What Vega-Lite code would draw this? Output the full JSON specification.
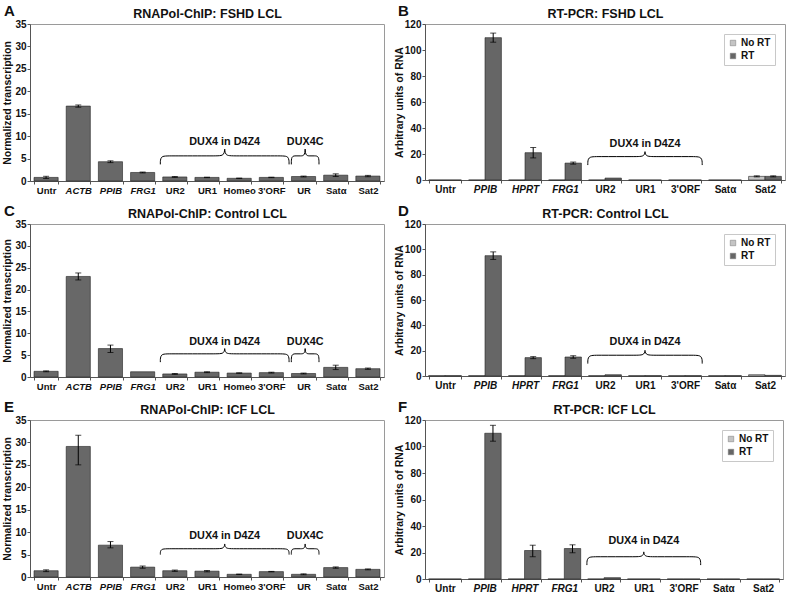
{
"$schema": "https://vega.github.io/schema/vega-lite/v6.json",
"background": "white",
"padding": {"left": 2, "top": 3, "right": 4, "bottom": 0},
"config": {
 "font": "Liberation Sans",
 "view": {"stroke": "#9a9a9a", "strokeWidth": 1},
 "axis": {"labelFont": "Liberation Sans", "labelFontWeight": "bold", "labelFontSize": 10, "labelColor": "#111", "titleFont": "Liberation Sans", "titleFontWeight": "bold", "titleFontSize": 10.5, "titleColor": "#111", "domainColor": "#555", "tickColor": "#555", "grid": false, "tickSize": 3, "labelPadding": 1, "titlePadding": 2, "labelOverlap": false},
 "title": {"font": "Liberation Sans", "fontWeight": "bold", "color": "#111"},
 "legend": {"labelFont": "Liberation Sans", "labelFontWeight": "bold", "labelFontSize": 10, "labelColor": "#111", "strokeColor": "#c8c8c8", "fillColor": "white", "padding": 4, "symbolType": "square", "symbolSize": 30, "offset": 10, "rowPadding": 3, "symbolStrokeColor": "#777", "symbolStrokeWidth": 0.5, "labelOffset": 3}
},
"datasets": {
 "chip": [
  {"p":"A","cat":"Untr","v":0.8,"lo":0.55,"hi":1.05},
  {"p":"A","cat":"ACTB","v":16.7,"lo":16.45,"hi":16.95},
  {"p":"A","cat":"PPIB","v":4.3,"lo":4.1,"hi":4.5},
  {"p":"A","cat":"FRG1","v":1.9,"lo":1.8,"hi":2.0},
  {"p":"A","cat":"UR2","v":0.9,"lo":0.8,"hi":1.0},
  {"p":"A","cat":"UR1","v":0.8,"lo":0.75,"hi":0.85},
  {"p":"A","cat":"Homeo","v":0.6,"lo":0.55,"hi":0.65},
  {"p":"A","cat":"3'ORF","v":0.8,"lo":0.75,"hi":0.85},
  {"p":"A","cat":"UR","v":1.0,"lo":0.9,"hi":1.1},
  {"p":"A","cat":"Satα","v":1.3,"lo":1.0,"hi":1.6},
  {"p":"A","cat":"Sat2","v":1.1,"lo":0.95,"hi":1.25},
  {"p":"C","cat":"Untr","v":1.3,"lo":1.2,"hi":1.4},
  {"p":"C","cat":"ACTB","v":23.0,"lo":22.2,"hi":23.8},
  {"p":"C","cat":"PPIB","v":6.5,"lo":5.6,"hi":7.3},
  {"p":"C","cat":"FRG1","v":1.2,"lo":null,"hi":null},
  {"p":"C","cat":"UR2","v":0.7,"lo":0.6,"hi":0.8},
  {"p":"C","cat":"UR1","v":1.1,"lo":1.0,"hi":1.2},
  {"p":"C","cat":"Homeo","v":0.9,"lo":0.85,"hi":0.95},
  {"p":"C","cat":"3'ORF","v":1.0,"lo":0.9,"hi":1.1},
  {"p":"C","cat":"UR","v":0.8,"lo":0.7,"hi":0.9},
  {"p":"C","cat":"Satα","v":2.2,"lo":1.7,"hi":2.7},
  {"p":"C","cat":"Sat2","v":1.9,"lo":1.75,"hi":2.05},
  {"p":"E","cat":"Untr","v":1.4,"lo":1.2,"hi":1.6},
  {"p":"E","cat":"ACTB","v":29.1,"lo":25.0,"hi":31.6},
  {"p":"E","cat":"PPIB","v":7.1,"lo":6.5,"hi":7.9},
  {"p":"E","cat":"FRG1","v":2.2,"lo":1.95,"hi":2.45},
  {"p":"E","cat":"UR2","v":1.4,"lo":1.25,"hi":1.55},
  {"p":"E","cat":"UR1","v":1.3,"lo":1.15,"hi":1.45},
  {"p":"E","cat":"Homeo","v":0.6,"lo":0.55,"hi":0.65},
  {"p":"E","cat":"3'ORF","v":1.2,"lo":1.15,"hi":1.25},
  {"p":"E","cat":"UR","v":0.6,"lo":0.5,"hi":0.7},
  {"p":"E","cat":"Satα","v":2.1,"lo":1.95,"hi":2.25},
  {"p":"E","cat":"Sat2","v":1.7,"lo":1.6,"hi":1.8}
 ],
 "rt": [
  {"p":"B","cat":"Untr","s":"No RT","v":0,"lo":null,"hi":null},
  {"p":"B","cat":"Untr","s":"RT","v":0,"lo":null,"hi":null},
  {"p":"B","cat":"PPIB","s":"No RT","v":0,"lo":null,"hi":null},
  {"p":"B","cat":"PPIB","s":"RT","v":109.5,"lo":106,"hi":113},
  {"p":"B","cat":"HPRT","s":"No RT","v":0,"lo":null,"hi":null},
  {"p":"B","cat":"HPRT","s":"RT","v":21,"lo":17,"hi":25},
  {"p":"B","cat":"FRG1","s":"No RT","v":0,"lo":null,"hi":null},
  {"p":"B","cat":"FRG1","s":"RT","v":13,"lo":12.2,"hi":13.8},
  {"p":"B","cat":"UR2","s":"No RT","v":0,"lo":null,"hi":null},
  {"p":"B","cat":"UR2","s":"RT","v":1.5,"lo":null,"hi":null},
  {"p":"B","cat":"UR1","s":"No RT","v":0,"lo":null,"hi":null},
  {"p":"B","cat":"UR1","s":"RT","v":0,"lo":null,"hi":null},
  {"p":"B","cat":"3'ORF","s":"No RT","v":0,"lo":null,"hi":null},
  {"p":"B","cat":"3'ORF","s":"RT","v":0,"lo":null,"hi":null},
  {"p":"B","cat":"Satα","s":"No RT","v":0,"lo":null,"hi":null},
  {"p":"B","cat":"Satα","s":"RT","v":0,"lo":null,"hi":null},
  {"p":"B","cat":"Sat2","s":"No RT","v":2.8,"lo":2.4,"hi":3.2},
  {"p":"B","cat":"Sat2","s":"RT","v":2.8,"lo":2.4,"hi":3.2},
  {"p":"D","cat":"Untr","s":"No RT","v":0.3,"lo":null,"hi":null},
  {"p":"D","cat":"Untr","s":"RT","v":0.3,"lo":null,"hi":null},
  {"p":"D","cat":"PPIB","s":"No RT","v":0.3,"lo":null,"hi":null},
  {"p":"D","cat":"PPIB","s":"RT","v":95,"lo":92,"hi":98},
  {"p":"D","cat":"HPRT","s":"No RT","v":0.3,"lo":null,"hi":null},
  {"p":"D","cat":"HPRT","s":"RT","v":14.5,"lo":13.7,"hi":15.3},
  {"p":"D","cat":"FRG1","s":"No RT","v":0.3,"lo":null,"hi":null},
  {"p":"D","cat":"FRG1","s":"RT","v":15,"lo":14,"hi":16},
  {"p":"D","cat":"UR2","s":"No RT","v":0.3,"lo":null,"hi":null},
  {"p":"D","cat":"UR2","s":"RT","v":1.0,"lo":null,"hi":null},
  {"p":"D","cat":"UR1","s":"No RT","v":0.3,"lo":null,"hi":null},
  {"p":"D","cat":"UR1","s":"RT","v":0.3,"lo":null,"hi":null},
  {"p":"D","cat":"3'ORF","s":"No RT","v":0.3,"lo":null,"hi":null},
  {"p":"D","cat":"3'ORF","s":"RT","v":0.3,"lo":null,"hi":null},
  {"p":"D","cat":"Satα","s":"No RT","v":0.3,"lo":null,"hi":null},
  {"p":"D","cat":"Satα","s":"RT","v":0.3,"lo":null,"hi":null},
  {"p":"D","cat":"Sat2","s":"No RT","v":1.0,"lo":null,"hi":null},
  {"p":"D","cat":"Sat2","s":"RT","v":0.5,"lo":null,"hi":null},
  {"p":"F","cat":"Untr","s":"No RT","v":0,"lo":null,"hi":null},
  {"p":"F","cat":"Untr","s":"RT","v":0,"lo":null,"hi":null},
  {"p":"F","cat":"PPIB","s":"No RT","v":0,"lo":null,"hi":null},
  {"p":"F","cat":"PPIB","s":"RT","v":110,"lo":104,"hi":116},
  {"p":"F","cat":"HPRT","s":"No RT","v":0,"lo":null,"hi":null},
  {"p":"F","cat":"HPRT","s":"RT","v":21.5,"lo":16.8,"hi":25.5},
  {"p":"F","cat":"FRG1","s":"No RT","v":0,"lo":null,"hi":null},
  {"p":"F","cat":"FRG1","s":"RT","v":23,"lo":19.8,"hi":25.8},
  {"p":"F","cat":"UR2","s":"No RT","v":0,"lo":null,"hi":null},
  {"p":"F","cat":"UR2","s":"RT","v":1.0,"lo":null,"hi":null},
  {"p":"F","cat":"UR1","s":"No RT","v":0,"lo":null,"hi":null},
  {"p":"F","cat":"UR1","s":"RT","v":0,"lo":null,"hi":null},
  {"p":"F","cat":"3'ORF","s":"No RT","v":0,"lo":null,"hi":null},
  {"p":"F","cat":"3'ORF","s":"RT","v":0,"lo":null,"hi":null},
  {"p":"F","cat":"Satα","s":"No RT","v":0,"lo":null,"hi":null},
  {"p":"F","cat":"Satα","s":"RT","v":0,"lo":null,"hi":null},
  {"p":"F","cat":"Sat2","s":"No RT","v":0,"lo":null,"hi":null},
  {"p":"F","cat":"Sat2","s":"RT","v":0,"lo":null,"hi":null}
 ],
 "braces": [
  {"p":"A","b":"d","o":1,"bx":4.05,"by":3.7},{"p":"A","b":"d","o":2,"bx":4.05,"by":5.6},{"p":"A","b":"d","o":3,"bx":4.3,"by":5.6},{"p":"A","b":"d","o":4,"bx":5.8,"by":5.6},{"p":"A","b":"d","o":5,"bx":6.05,"by":5.6},{"p":"A","b":"d","o":6,"bx":6.05,"by":7.9},{"p":"A","b":"d","o":7,"bx":6.05,"by":5.6},{"p":"A","b":"d","o":8,"bx":6.3,"by":5.6},{"p":"A","b":"d","o":9,"bx":7.8,"by":5.6},{"p":"A","b":"d","o":10,"bx":8.05,"by":5.6},{"p":"A","b":"d","o":11,"bx":8.05,"by":3.7},
  {"p":"A","b":"c","o":1,"bx":8.12,"by":3.7},{"p":"A","b":"c","o":2,"bx":8.12,"by":5.6},{"p":"A","b":"c","o":3,"bx":8.27,"by":5.6},{"p":"A","b":"c","o":4,"bx":8.4,"by":5.6},{"p":"A","b":"c","o":5,"bx":8.55,"by":5.6},{"p":"A","b":"c","o":6,"bx":8.55,"by":7.9},{"p":"A","b":"c","o":7,"bx":8.55,"by":5.6},{"p":"A","b":"c","o":8,"bx":8.7,"by":5.6},{"p":"A","b":"c","o":9,"bx":8.83,"by":5.6},{"p":"A","b":"c","o":10,"bx":8.98,"by":5.6},{"p":"A","b":"c","o":11,"bx":8.98,"by":3.7},
  {"p":"C","b":"d","o":1,"bx":4.05,"by":3.4},{"p":"C","b":"d","o":2,"bx":4.05,"by":5.3},{"p":"C","b":"d","o":3,"bx":4.3,"by":5.3},{"p":"C","b":"d","o":4,"bx":5.8,"by":5.3},{"p":"C","b":"d","o":5,"bx":6.05,"by":5.3},{"p":"C","b":"d","o":6,"bx":6.05,"by":7.1},{"p":"C","b":"d","o":7,"bx":6.05,"by":5.3},{"p":"C","b":"d","o":8,"bx":6.3,"by":5.3},{"p":"C","b":"d","o":9,"bx":7.8,"by":5.3},{"p":"C","b":"d","o":10,"bx":8.05,"by":5.3},{"p":"C","b":"d","o":11,"bx":8.05,"by":3.4},
  {"p":"C","b":"c","o":1,"bx":8.12,"by":3.4},{"p":"C","b":"c","o":2,"bx":8.12,"by":5.3},{"p":"C","b":"c","o":3,"bx":8.27,"by":5.3},{"p":"C","b":"c","o":4,"bx":8.4,"by":5.3},{"p":"C","b":"c","o":5,"bx":8.55,"by":5.3},{"p":"C","b":"c","o":6,"bx":8.55,"by":7.1},{"p":"C","b":"c","o":7,"bx":8.55,"by":5.3},{"p":"C","b":"c","o":8,"bx":8.7,"by":5.3},{"p":"C","b":"c","o":9,"bx":8.83,"by":5.3},{"p":"C","b":"c","o":10,"bx":8.98,"by":5.3},{"p":"C","b":"c","o":11,"bx":8.98,"by":3.4},
  {"p":"E","b":"d","o":1,"bx":4.05,"by":5.0},{"p":"E","b":"d","o":2,"bx":4.05,"by":6.3},{"p":"E","b":"d","o":3,"bx":4.3,"by":6.3},{"p":"E","b":"d","o":4,"bx":5.8,"by":6.3},{"p":"E","b":"d","o":5,"bx":6.05,"by":6.3},{"p":"E","b":"d","o":6,"bx":6.05,"by":7.9},{"p":"E","b":"d","o":7,"bx":6.05,"by":6.3},{"p":"E","b":"d","o":8,"bx":6.3,"by":6.3},{"p":"E","b":"d","o":9,"bx":7.8,"by":6.3},{"p":"E","b":"d","o":10,"bx":8.05,"by":6.3},{"p":"E","b":"d","o":11,"bx":8.05,"by":5.0},
  {"p":"E","b":"c","o":1,"bx":8.12,"by":5.0},{"p":"E","b":"c","o":2,"bx":8.12,"by":6.3},{"p":"E","b":"c","o":3,"bx":8.27,"by":6.3},{"p":"E","b":"c","o":4,"bx":8.4,"by":6.3},{"p":"E","b":"c","o":5,"bx":8.55,"by":6.3},{"p":"E","b":"c","o":6,"bx":8.55,"by":7.9},{"p":"E","b":"c","o":7,"bx":8.55,"by":6.3},{"p":"E","b":"c","o":8,"bx":8.7,"by":6.3},{"p":"E","b":"c","o":9,"bx":8.83,"by":6.3},{"p":"E","b":"c","o":10,"bx":8.98,"by":6.3},{"p":"E","b":"c","o":11,"bx":8.98,"by":5.0},
  {"p":"B","b":"d","o":1,"bx":4.07,"by":11.5},{"p":"B","b":"d","o":2,"bx":4.07,"by":18},{"p":"B","b":"d","o":3,"bx":4.29,"by":18},{"p":"B","b":"d","o":4,"bx":5.28,"by":18},{"p":"B","b":"d","o":5,"bx":5.5,"by":18},{"p":"B","b":"d","o":6,"bx":5.5,"by":23.7},{"p":"B","b":"d","o":7,"bx":5.5,"by":18},{"p":"B","b":"d","o":8,"bx":5.72,"by":18},{"p":"B","b":"d","o":9,"bx":6.71,"by":18},{"p":"B","b":"d","o":10,"bx":6.93,"by":18},{"p":"B","b":"d","o":11,"bx":6.93,"by":11.5},
  {"p":"D","b":"d","o":1,"bx":4.07,"by":9.8},{"p":"D","b":"d","o":2,"bx":4.07,"by":16.4},{"p":"D","b":"d","o":3,"bx":4.29,"by":16.4},{"p":"D","b":"d","o":4,"bx":5.28,"by":16.4},{"p":"D","b":"d","o":5,"bx":5.5,"by":16.4},{"p":"D","b":"d","o":6,"bx":5.5,"by":22.2},{"p":"D","b":"d","o":7,"bx":5.5,"by":16.4},{"p":"D","b":"d","o":8,"bx":5.72,"by":16.4},{"p":"D","b":"d","o":9,"bx":6.71,"by":16.4},{"p":"D","b":"d","o":10,"bx":6.93,"by":16.4},{"p":"D","b":"d","o":11,"bx":6.93,"by":9.8},
  {"p":"F","b":"d","o":1,"bx":4.07,"by":10.5},{"p":"F","b":"d","o":2,"bx":4.07,"by":16.8},{"p":"F","b":"d","o":3,"bx":4.29,"by":16.8},{"p":"F","b":"d","o":4,"bx":5.28,"by":16.8},{"p":"F","b":"d","o":5,"bx":5.5,"by":16.8},{"p":"F","b":"d","o":6,"bx":5.5,"by":22.3},{"p":"F","b":"d","o":7,"bx":5.5,"by":16.8},{"p":"F","b":"d","o":8,"bx":5.72,"by":16.8},{"p":"F","b":"d","o":9,"bx":6.71,"by":16.8},{"p":"F","b":"d","o":10,"bx":6.93,"by":16.8},{"p":"F","b":"d","o":11,"bx":6.93,"by":10.5}
 ],
 "blabels": [
  {"p":"A","t":"DUX4 in D4Z4","bx":6.05,"by":8.7},{"p":"A","t":"DUX4C","bx":8.55,"by":8.7},
  {"p":"C","t":"DUX4 in D4Z4","bx":6.05,"by":8.1},{"p":"C","t":"DUX4C","bx":8.55,"by":8.1},
  {"p":"E","t":"DUX4 in D4Z4","bx":6.05,"by":9.1},{"p":"E","t":"DUX4C","bx":8.55,"by":9.1},
  {"p":"B","t":"DUX4 in D4Z4","bx":5.5,"by":27.7},
  {"p":"D","t":"DUX4 in D4Z4","bx":5.5,"by":27},
  {"p":"F","t":"DUX4 in D4Z4","bx":5.5,"by":28.5}
 ]
},
"spacing": 8,
"resolve": {"scale": {"color": "independent"}, "legend": {"color": "independent"}},
"vconcat": [
 {"hconcat": [
  {"title": {"text": "A", "anchor": "start", "frame": "group", "fontSize": 15, "dy": 16, "dx": -26},
   "width": 354, "height": 157,
   "layer": [
    {"data": {"name": "chip"}, "transform": [{"filter": "datum.p == 'A'"}],
     "encoding": {"x": {"field": "cat", "type": "nominal", "scale": {"domain": ["Untr","ACTB","PPIB","FRG1","UR2","UR1","Homeo","3'ORF","UR","Satα","Sat2"], "paddingInner": 0.25, "paddingOuter": 0.125}, "axis": {"title": null, "labelAngle": 0, "tickBand": "extent", "labelPadding": 1, "labelFontSize": 9.5, "labelFontStyle": {"condition": {"test": "indexof(['ACTB','PPIB','FRG1','HPRT'], datum.value) >= 0", "value": "italic"}, "value": "normal"}}}},
     "layer": [
      {"mark": {"type": "bar", "fill": "#686868", "stroke": "#222", "strokeWidth": 0.6}, "encoding": {"y": {"field": "v", "type": "quantitative", "title": "Normalized transcription", "scale": {"domain": [0, 35]}, "axis": {"values": [0,5,10,15,20,25,30,35]}}}},
      {"transform": [{"filter": "isValid(datum.lo)"}], "mark": {"type": "rule", "color": "#000"}, "encoding": {"y": {"field": "lo", "type": "quantitative", "title": "Normalized transcription", "axis": {"values": [0,5,10,15,20,25,30,35]}}, "y2": {"field": "hi"}}},
      {"transform": [{"filter": "isValid(datum.lo)"}], "mark": {"type": "tick", "color": "#000", "size": 6, "thickness": 1}, "encoding": {"y": {"field": "lo", "type": "quantitative", "title": "Normalized transcription", "axis": {"values": [0,5,10,15,20,25,30,35]}}}},
      {"transform": [{"filter": "isValid(datum.hi)"}], "mark": {"type": "tick", "color": "#000", "size": 6, "thickness": 1}, "encoding": {"y": {"field": "hi", "type": "quantitative", "title": "Normalized transcription", "axis": {"values": [0,5,10,15,20,25,30,35]}}}}
     ]},
    {"layer": [
      {"data": {"name": "braces"}, "transform": [{"filter": "datum.p == 'A'"}], "mark": {"type": "line", "interpolate": "basis", "color": "#000", "strokeWidth": 1}, "encoding": {"x": {"field": "bx", "type": "quantitative", "scale": {"domain": [0, 11], "nice": false}, "axis": {"orient": "top", "title": "RNAPol-ChIP: FSHD LCL", "labels": false, "ticks": false, "domain": false, "grid": false, "titleFontSize": 12.5, "titlePadding": 4}}, "y": {"field": "by", "type": "quantitative", "title": "Normalized transcription", "axis": {"values": [0,5,10,15,20,25,30,35]}}, "detail": {"field": "b"}, "order": {"field": "o", "type": "quantitative"}}},
      {"data": {"name": "blabels"}, "transform": [{"filter": "datum.p == 'A'"}], "mark": {"type": "text", "fontWeight": "bold", "fontSize": 10.8, "font": "Liberation Sans", "color": "#111"}, "encoding": {"x": {"field": "bx", "type": "quantitative"}, "y": {"field": "by", "type": "quantitative", "title": "Normalized transcription", "axis": {"values": [0,5,10,15,20,25,30,35]}}, "text": {"field": "t"}}}
    ]}
   ],
   "resolve": {"scale": {"x": "independent"}, "axis": {"x": "independent"}}
  },
  {"title": {"text": "B", "anchor": "start", "frame": "group", "fontSize": 15, "dy": 16, "dx": -27},
   "width": 360, "height": 156,
   "layer": [
    {"data": {"name": "rt"}, "transform": [{"filter": "datum.p == 'B'"}],
     "encoding": {"x": {"field": "cat", "type": "nominal", "scale": {"domain": ["Untr","PPIB","HPRT","FRG1","UR2","UR1","3'ORF","Satα","Sat2"], "paddingInner": 0.18, "paddingOuter": 0.09}, "axis": {"title": null, "labelAngle": 0, "tickBand": "extent", "labelPadding": 1, "labelFontStyle": {"condition": {"test": "indexof(['ACTB','PPIB','FRG1','HPRT'], datum.value) >= 0", "value": "italic"}, "value": "normal"}}},
                  "xOffset": {"field": "s", "type": "nominal", "scale": {"domain": ["No RT", "RT"]}}},
     "layer": [
      {"mark": {"type": "bar", "stroke": "#222", "strokeWidth": 0.6}, "encoding": {"y": {"field": "v", "type": "quantitative", "title": "Arbitrary units of RNA", "scale": {"domain": [0, 120]}, "axis": {"values": [0,20,40,60,80,100,120], "titlePadding": 0}}, "color": {"field": "s", "type": "nominal", "scale": {"domain": ["No RT", "RT"], "range": ["#c4c4c4", "#666666"]}, "legend": {"title": null, "orient": "top-right"}}}},
      {"transform": [{"filter": "isValid(datum.lo)"}], "mark": {"type": "rule", "color": "#000"}, "encoding": {"y": {"field": "lo", "type": "quantitative", "title": "Arbitrary units of RNA", "axis": {"values": [0,20,40,60,80,100,120], "titlePadding": 0}}, "y2": {"field": "hi"}}},
      {"transform": [{"filter": "isValid(datum.lo)"}], "mark": {"type": "tick", "color": "#000", "size": 6, "thickness": 1}, "encoding": {"y": {"field": "lo", "type": "quantitative", "title": "Arbitrary units of RNA", "axis": {"values": [0,20,40,60,80,100,120], "titlePadding": 0}}}},
      {"transform": [{"filter": "isValid(datum.hi)"}], "mark": {"type": "tick", "color": "#000", "size": 6, "thickness": 1}, "encoding": {"y": {"field": "hi", "type": "quantitative", "title": "Arbitrary units of RNA", "axis": {"values": [0,20,40,60,80,100,120], "titlePadding": 0}}}}
     ]},
    {"layer": [
      {"data": {"name": "braces"}, "transform": [{"filter": "datum.p == 'B'"}], "mark": {"type": "line", "interpolate": "basis", "color": "#000", "strokeWidth": 1}, "encoding": {"x": {"field": "bx", "type": "quantitative", "scale": {"domain": [0, 9], "nice": false}, "axis": {"orient": "top", "title": "RT-PCR: FSHD LCL", "labels": false, "ticks": false, "domain": false, "grid": false, "titleFontSize": 12.5, "titlePadding": 4}}, "y": {"field": "by", "type": "quantitative", "title": "Arbitrary units of RNA", "axis": {"values": [0,20,40,60,80,100,120], "titlePadding": 0}}, "detail": {"field": "b"}, "order": {"field": "o", "type": "quantitative"}}},
      {"data": {"name": "blabels"}, "transform": [{"filter": "datum.p == 'B'"}], "mark": {"type": "text", "fontWeight": "bold", "fontSize": 10.8, "font": "Liberation Sans", "color": "#111"}, "encoding": {"x": {"field": "bx", "type": "quantitative"}, "y": {"field": "by", "type": "quantitative", "title": "Arbitrary units of RNA", "axis": {"values": [0,20,40,60,80,100,120], "titlePadding": 0}}, "text": {"field": "t"}}}
    ]}
   ],
   "resolve": {"scale": {"x": "independent"}, "axis": {"x": "independent"}}
  }
 ], "spacing": 8, "resolve": {"scale": {"color": "independent"}, "legend": {"color": "independent"}}},
 {"hconcat": [
  {"title": {"text": "C", "anchor": "start", "frame": "group", "fontSize": 15, "dy": 16, "dx": -26},
   "width": 354, "height": 153,
   "layer": [
    {"data": {"name": "chip"}, "transform": [{"filter": "datum.p == 'C'"}],
     "encoding": {"x": {"field": "cat", "type": "nominal", "scale": {"domain": ["Untr","ACTB","PPIB","FRG1","UR2","UR1","Homeo","3'ORF","UR","Satα","Sat2"], "paddingInner": 0.25, "paddingOuter": 0.125}, "axis": {"title": null, "labelAngle": 0, "tickBand": "extent", "labelPadding": 1, "labelFontSize": 9.5, "labelFontStyle": {"condition": {"test": "indexof(['ACTB','PPIB','FRG1','HPRT'], datum.value) >= 0", "value": "italic"}, "value": "normal"}}}},
     "layer": [
      {"mark": {"type": "bar", "fill": "#686868", "stroke": "#222", "strokeWidth": 0.6}, "encoding": {"y": {"field": "v", "type": "quantitative", "title": "Normalized transcription", "scale": {"domain": [0, 35]}, "axis": {"values": [0,5,10,15,20,25,30,35]}}}},
      {"transform": [{"filter": "isValid(datum.lo)"}], "mark": {"type": "rule", "color": "#000"}, "encoding": {"y": {"field": "lo", "type": "quantitative", "title": "Normalized transcription", "axis": {"values": [0,5,10,15,20,25,30,35]}}, "y2": {"field": "hi"}}},
      {"transform": [{"filter": "isValid(datum.lo)"}], "mark": {"type": "tick", "color": "#000", "size": 6, "thickness": 1}, "encoding": {"y": {"field": "lo", "type": "quantitative", "title": "Normalized transcription", "axis": {"values": [0,5,10,15,20,25,30,35]}}}},
      {"transform": [{"filter": "isValid(datum.hi)"}], "mark": {"type": "tick", "color": "#000", "size": 6, "thickness": 1}, "encoding": {"y": {"field": "hi", "type": "quantitative", "title": "Normalized transcription", "axis": {"values": [0,5,10,15,20,25,30,35]}}}}
     ]},
    {"layer": [
      {"data": {"name": "braces"}, "transform": [{"filter": "datum.p == 'C'"}], "mark": {"type": "line", "interpolate": "basis", "color": "#000", "strokeWidth": 1}, "encoding": {"x": {"field": "bx", "type": "quantitative", "scale": {"domain": [0, 11], "nice": false}, "axis": {"orient": "top", "title": "RNAPol-ChIP: Control LCL", "labels": false, "ticks": false, "domain": false, "grid": false, "titleFontSize": 12.5, "titlePadding": 4}}, "y": {"field": "by", "type": "quantitative", "title": "Normalized transcription", "axis": {"values": [0,5,10,15,20,25,30,35]}}, "detail": {"field": "b"}, "order": {"field": "o", "type": "quantitative"}}},
      {"data": {"name": "blabels"}, "transform": [{"filter": "datum.p == 'C'"}], "mark": {"type": "text", "fontWeight": "bold", "fontSize": 10.8, "font": "Liberation Sans", "color": "#111"}, "encoding": {"x": {"field": "bx", "type": "quantitative"}, "y": {"field": "by", "type": "quantitative", "title": "Normalized transcription", "axis": {"values": [0,5,10,15,20,25,30,35]}}, "text": {"field": "t"}}}
    ]}
   ],
   "resolve": {"scale": {"x": "independent"}, "axis": {"x": "independent"}}
  },
  {"title": {"text": "D", "anchor": "start", "frame": "group", "fontSize": 15, "dy": 16, "dx": -27},
   "width": 360, "height": 152,
   "layer": [
    {"data": {"name": "rt"}, "transform": [{"filter": "datum.p == 'D'"}],
     "encoding": {"x": {"field": "cat", "type": "nominal", "scale": {"domain": ["Untr","PPIB","HPRT","FRG1","UR2","UR1","3'ORF","Satα","Sat2"], "paddingInner": 0.18, "paddingOuter": 0.09}, "axis": {"title": null, "labelAngle": 0, "tickBand": "extent", "labelPadding": 1, "labelFontStyle": {"condition": {"test": "indexof(['ACTB','PPIB','FRG1','HPRT'], datum.value) >= 0", "value": "italic"}, "value": "normal"}}},
                  "xOffset": {"field": "s", "type": "nominal", "scale": {"domain": ["No RT", "RT"]}}},
     "layer": [
      {"mark": {"type": "bar", "stroke": "#222", "strokeWidth": 0.6}, "encoding": {"y": {"field": "v", "type": "quantitative", "title": "Arbitrary units of RNA", "scale": {"domain": [0, 120]}, "axis": {"values": [0,20,40,60,80,100,120], "titlePadding": 0}}, "color": {"field": "s", "type": "nominal", "scale": {"domain": ["No RT", "RT"], "range": ["#c4c4c4", "#666666"]}, "legend": {"title": null, "orient": "top-right"}}}},
      {"transform": [{"filter": "isValid(datum.lo)"}], "mark": {"type": "rule", "color": "#000"}, "encoding": {"y": {"field": "lo", "type": "quantitative", "title": "Arbitrary units of RNA", "axis": {"values": [0,20,40,60,80,100,120], "titlePadding": 0}}, "y2": {"field": "hi"}}},
      {"transform": [{"filter": "isValid(datum.lo)"}], "mark": {"type": "tick", "color": "#000", "size": 6, "thickness": 1}, "encoding": {"y": {"field": "lo", "type": "quantitative", "title": "Arbitrary units of RNA", "axis": {"values": [0,20,40,60,80,100,120], "titlePadding": 0}}}},
      {"transform": [{"filter": "isValid(datum.hi)"}], "mark": {"type": "tick", "color": "#000", "size": 6, "thickness": 1}, "encoding": {"y": {"field": "hi", "type": "quantitative", "title": "Arbitrary units of RNA", "axis": {"values": [0,20,40,60,80,100,120], "titlePadding": 0}}}}
     ]},
    {"layer": [
      {"data": {"name": "braces"}, "transform": [{"filter": "datum.p == 'D'"}], "mark": {"type": "line", "interpolate": "basis", "color": "#000", "strokeWidth": 1}, "encoding": {"x": {"field": "bx", "type": "quantitative", "scale": {"domain": [0, 9], "nice": false}, "axis": {"orient": "top", "title": "RT-PCR: Control LCL", "labels": false, "ticks": false, "domain": false, "grid": false, "titleFontSize": 12.5, "titlePadding": 4}}, "y": {"field": "by", "type": "quantitative", "title": "Arbitrary units of RNA", "axis": {"values": [0,20,40,60,80,100,120], "titlePadding": 0}}, "detail": {"field": "b"}, "order": {"field": "o", "type": "quantitative"}}},
      {"data": {"name": "blabels"}, "transform": [{"filter": "datum.p == 'D'"}], "mark": {"type": "text", "fontWeight": "bold", "fontSize": 10.8, "font": "Liberation Sans", "color": "#111"}, "encoding": {"x": {"field": "bx", "type": "quantitative"}, "y": {"field": "by", "type": "quantitative", "title": "Arbitrary units of RNA", "axis": {"values": [0,20,40,60,80,100,120], "titlePadding": 0}}, "text": {"field": "t"}}}
    ]}
   ],
   "resolve": {"scale": {"x": "independent"}, "axis": {"x": "independent"}}
  }
 ], "spacing": 8, "resolve": {"scale": {"color": "independent"}, "legend": {"color": "independent"}}},
 {"hconcat": [
  {"title": {"text": "E", "anchor": "start", "frame": "group", "fontSize": 15, "dy": 16, "dx": -26},
   "width": 354, "height": 157,
   "layer": [
    {"data": {"name": "chip"}, "transform": [{"filter": "datum.p == 'E'"}],
     "encoding": {"x": {"field": "cat", "type": "nominal", "scale": {"domain": ["Untr","ACTB","PPIB","FRG1","UR2","UR1","Homeo","3'ORF","UR","Satα","Sat2"], "paddingInner": 0.25, "paddingOuter": 0.125}, "axis": {"title": null, "labelAngle": 0, "tickBand": "extent", "labelPadding": 1, "labelFontSize": 9.5, "labelFontStyle": {"condition": {"test": "indexof(['ACTB','PPIB','FRG1','HPRT'], datum.value) >= 0", "value": "italic"}, "value": "normal"}}}},
     "layer": [
      {"mark": {"type": "bar", "fill": "#686868", "stroke": "#222", "strokeWidth": 0.6}, "encoding": {"y": {"field": "v", "type": "quantitative", "title": "Normalized transcription", "scale": {"domain": [0, 35]}, "axis": {"values": [0,5,10,15,20,25,30,35]}}}},
      {"transform": [{"filter": "isValid(datum.lo)"}], "mark": {"type": "rule", "color": "#000"}, "encoding": {"y": {"field": "lo", "type": "quantitative", "title": "Normalized transcription", "axis": {"values": [0,5,10,15,20,25,30,35]}}, "y2": {"field": "hi"}}},
      {"transform": [{"filter": "isValid(datum.lo)"}], "mark": {"type": "tick", "color": "#000", "size": 6, "thickness": 1}, "encoding": {"y": {"field": "lo", "type": "quantitative", "title": "Normalized transcription", "axis": {"values": [0,5,10,15,20,25,30,35]}}}},
      {"transform": [{"filter": "isValid(datum.hi)"}], "mark": {"type": "tick", "color": "#000", "size": 6, "thickness": 1}, "encoding": {"y": {"field": "hi", "type": "quantitative", "title": "Normalized transcription", "axis": {"values": [0,5,10,15,20,25,30,35]}}}}
     ]},
    {"layer": [
      {"data": {"name": "braces"}, "transform": [{"filter": "datum.p == 'E'"}], "mark": {"type": "line", "interpolate": "basis", "color": "#000", "strokeWidth": 1}, "encoding": {"x": {"field": "bx", "type": "quantitative", "scale": {"domain": [0, 11], "nice": false}, "axis": {"orient": "top", "title": "RNAPol-ChIP: ICF LCL", "labels": false, "ticks": false, "domain": false, "grid": false, "titleFontSize": 12.5, "titlePadding": 4}}, "y": {"field": "by", "type": "quantitative", "title": "Normalized transcription", "axis": {"values": [0,5,10,15,20,25,30,35]}}, "detail": {"field": "b"}, "order": {"field": "o", "type": "quantitative"}}},
      {"data": {"name": "blabels"}, "transform": [{"filter": "datum.p == 'E'"}], "mark": {"type": "text", "fontWeight": "bold", "fontSize": 10.8, "font": "Liberation Sans", "color": "#111"}, "encoding": {"x": {"field": "bx", "type": "quantitative"}, "y": {"field": "by", "type": "quantitative", "title": "Normalized transcription", "axis": {"values": [0,5,10,15,20,25,30,35]}}, "text": {"field": "t"}}}
    ]}
   ],
   "resolve": {"scale": {"x": "independent"}, "axis": {"x": "independent"}}
  },
  {"title": {"text": "F", "anchor": "start", "frame": "group", "fontSize": 15, "dy": 16, "dx": -27},
   "width": 358, "height": 159,
   "layer": [
    {"data": {"name": "rt"}, "transform": [{"filter": "datum.p == 'F'"}],
     "encoding": {"x": {"field": "cat", "type": "nominal", "scale": {"domain": ["Untr","PPIB","HPRT","FRG1","UR2","UR1","3'ORF","Satα","Sat2"], "paddingInner": 0.18, "paddingOuter": 0.09}, "axis": {"title": null, "labelAngle": 0, "tickBand": "extent", "labelPadding": 1, "labelFontStyle": {"condition": {"test": "indexof(['ACTB','PPIB','FRG1','HPRT'], datum.value) >= 0", "value": "italic"}, "value": "normal"}}},
                  "xOffset": {"field": "s", "type": "nominal", "scale": {"domain": ["No RT", "RT"]}}},
     "layer": [
      {"mark": {"type": "bar", "stroke": "#222", "strokeWidth": 0.6}, "encoding": {"y": {"field": "v", "type": "quantitative", "title": "Arbitrary units of RNA", "scale": {"domain": [0, 120]}, "axis": {"values": [0,20,40,60,80,100,120], "titlePadding": 0}}, "color": {"field": "s", "type": "nominal", "scale": {"domain": ["No RT", "RT"], "range": ["#c4c4c4", "#666666"]}, "legend": {"title": null, "orient": "top-right"}}}},
      {"transform": [{"filter": "isValid(datum.lo)"}], "mark": {"type": "rule", "color": "#000"}, "encoding": {"y": {"field": "lo", "type": "quantitative", "title": "Arbitrary units of RNA", "axis": {"values": [0,20,40,60,80,100,120], "titlePadding": 0}}, "y2": {"field": "hi"}}},
      {"transform": [{"filter": "isValid(datum.lo)"}], "mark": {"type": "tick", "color": "#000", "size": 6, "thickness": 1}, "encoding": {"y": {"field": "lo", "type": "quantitative", "title": "Arbitrary units of RNA", "axis": {"values": [0,20,40,60,80,100,120], "titlePadding": 0}}}},
      {"transform": [{"filter": "isValid(datum.hi)"}], "mark": {"type": "tick", "color": "#000", "size": 6, "thickness": 1}, "encoding": {"y": {"field": "hi", "type": "quantitative", "title": "Arbitrary units of RNA", "axis": {"values": [0,20,40,60,80,100,120], "titlePadding": 0}}}}
     ]},
    {"layer": [
      {"data": {"name": "braces"}, "transform": [{"filter": "datum.p == 'F'"}], "mark": {"type": "line", "interpolate": "basis", "color": "#000", "strokeWidth": 1}, "encoding": {"x": {"field": "bx", "type": "quantitative", "scale": {"domain": [0, 9], "nice": false}, "axis": {"orient": "top", "title": "RT-PCR: ICF LCL", "labels": false, "ticks": false, "domain": false, "grid": false, "titleFontSize": 12.5, "titlePadding": 4}}, "y": {"field": "by", "type": "quantitative", "title": "Arbitrary units of RNA", "axis": {"values": [0,20,40,60,80,100,120], "titlePadding": 0}}, "detail": {"field": "b"}, "order": {"field": "o", "type": "quantitative"}}},
      {"data": {"name": "blabels"}, "transform": [{"filter": "datum.p == 'F'"}], "mark": {"type": "text", "fontWeight": "bold", "fontSize": 10.8, "font": "Liberation Sans", "color": "#111"}, "encoding": {"x": {"field": "bx", "type": "quantitative"}, "y": {"field": "by", "type": "quantitative", "title": "Arbitrary units of RNA", "axis": {"values": [0,20,40,60,80,100,120], "titlePadding": 0}}, "text": {"field": "t"}}}
    ]}
   ],
   "resolve": {"scale": {"x": "independent"}, "axis": {"x": "independent"}}
  }
 ], "spacing": 8, "resolve": {"scale": {"color": "independent"}, "legend": {"color": "independent"}}}
]
}
